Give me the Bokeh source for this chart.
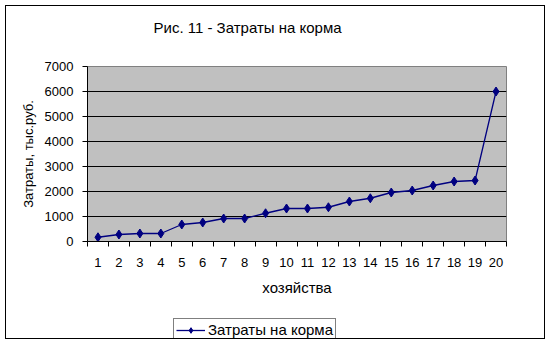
from bokeh.plotting import figure
from bokeh.layouts import column
from bokeh.models import Range1d, FixedTicker, Legend, LegendItem, Title
from bokeh.embed import file_html
from bokeh.resources import INLINE

# data
farms = list(range(1, 21))
costs = [170, 280, 320, 320, 680, 760, 920, 920, 1130, 1320,
         1320, 1370, 1600, 1730, 1960, 2040, 2240, 2400, 2440, 6000]
y_ticks = [0, 1000, 2000, 3000, 4000, 5000, 6000, 7000]
title_text = "Рис. 11 - Затраты на корма"
series_name = "Затраты на корма"
x_label = "хозяйства"
y_label = "Затраты, тыс.руб."

FONT = "Liberation Sans"
FS = "13px"
NAVY = "#000080"

p = figure(width=538, height=310, output_backend="svg", toolbar_location=None,
           title=None,
           x_range=Range1d(0.5, 20.5), y_range=Range1d(0, 7000),
           min_border_left=81, min_border_right=38, min_border_top=60,
           min_border_bottom=75)
p.frame_width = 419
p.frame_height = 175
p.background_fill_color = "#C0C0C0"
p.border_fill_color = "white"
p.outline_line_color = "#808080"
p.outline_line_width = 1

# spacer (nearest the frame) then the real title above it
spacer = Title(text=" ", text_font_size="13px", standoff=14)
p.add_layout(spacer, "above")
ttl = Title(text=title_text, align="left", offset=66, text_font=FONT,
            text_font_size="15px", text_font_style="normal",
            text_color="black", standoff=0)
p.add_layout(ttl, "above")

# x axis: labels at categories, ticks between
half = [i - 0.5 for i in range(1, 22)]
p.xaxis.ticker = FixedTicker(ticks=farms, minor_ticks=half)
p.xaxis.major_tick_out = 0
p.xaxis.major_tick_in = 0
p.xaxis.minor_tick_out = 5
p.xaxis.minor_tick_in = 0
p.xaxis.minor_tick_line_color = "black"
p.xaxis.axis_line_color = "black"
p.xaxis.major_label_standoff = 11
p.xaxis.axis_label = x_label
p.xaxis.axis_label_standoff = 9

# y axis
p.yaxis.ticker = FixedTicker(ticks=y_ticks)
p.yaxis.major_tick_out = 5
p.yaxis.major_tick_in = 0
p.yaxis.minor_tick_line_color = None
p.yaxis.axis_line_color = "black"
p.yaxis.major_label_standoff = 9
p.yaxis.axis_label = y_label
p.yaxis.axis_label_standoff = 6

for ax in [p.xaxis[0], p.yaxis[0]]:
    ax.major_label_text_font = FONT
    ax.major_label_text_font_size = FS
    ax.major_label_text_color = "black"
    ax.axis_label_text_font = FONT
    ax.axis_label_text_font_size = FS
    ax.axis_label_text_font_style = "normal"
    ax.axis_label_text_color = "black"
    ax.major_tick_line_color = "black"
p.xaxis.axis_label_text_font_size = "15px"

p.xgrid.grid_line_color = None
p.ygrid.grid_line_color = "black"
p.ygrid.grid_line_width = 1

p.line(farms, costs, line_color=NAVY, line_width=1.3)
p.scatter(farms, costs, marker="diamond", size=9, fill_color=NAVY,
          line_color=NAVY)

# legend strip under the chart (its frame is aligned with the chart's frame)
lg = figure(width=538, height=22, output_backend="svg", toolbar_location=None,
            title=None, x_axis_type=None, y_axis_type=None,
            min_border_left=0, min_border_right=0, min_border_top=0,
            min_border_bottom=0)
lg.outline_line_color = None
lg.background_fill_color = "white"
lg.border_fill_color = "white"
lg.xgrid.grid_line_color = None
lg.ygrid.grid_line_color = None
nan = float("nan")
lr = lg.line([nan], [nan], line_color=NAVY, line_width=1.3)
ls = lg.scatter([nan], [nan], marker="diamond", size=8, fill_color=NAVY,
                line_color=NAVY)
legend = Legend(items=[LegendItem(label=series_name, renderers=[lr, ls])],
                location=(86, -3), orientation="horizontal",
                border_line_color="black", border_line_width=1,
                background_fill_color="white", background_fill_alpha=1,
                label_text_font=FONT, label_text_font_size="15px",
                label_text_color="black", padding=2, margin=0,
                glyph_width=29, glyph_height=14, label_standoff=3,
                label_height=14)
lg.add_layout(legend, "center")

layout = column(p, lg, spacing=0)
layout.margin = (5, 5, 6, 5)
layout.styles = {"border": "1px solid black", "background": "white"}

open("out.html", "w").write(file_html(layout, INLINE))
